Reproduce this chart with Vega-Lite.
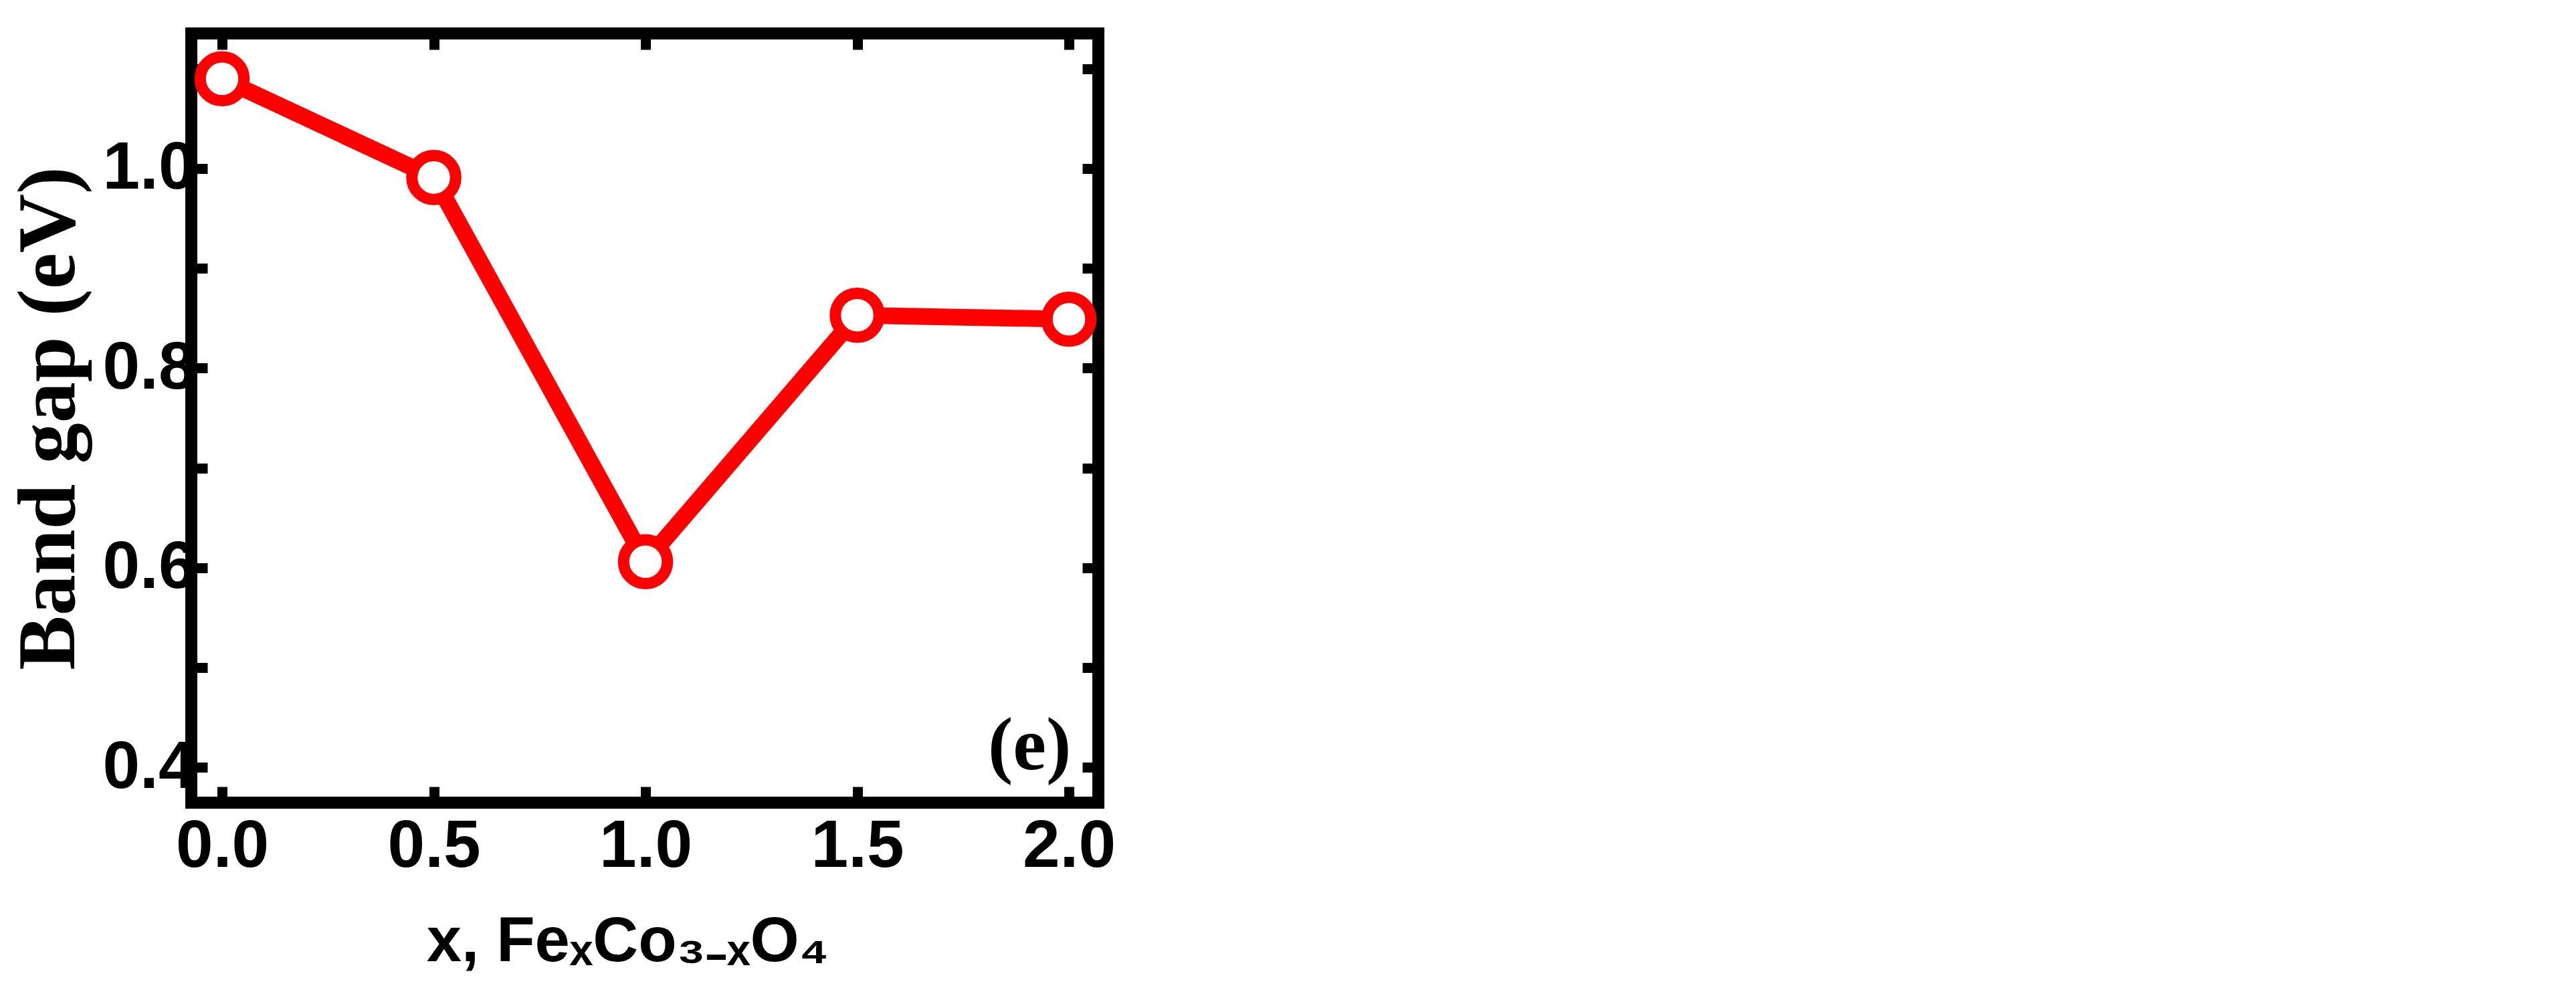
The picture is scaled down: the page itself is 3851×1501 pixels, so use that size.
{
  "$schema": "https://vega.github.io/schema/vega-lite/v6.json",
  "width": 1356,
  "height": 1150,
  "autosize": {"type": "none"},
  "padding": {"left": 286, "top": 50, "right": 2209, "bottom": 301},
  "background": "white",
  "config": {
    "view": {"stroke": "black", "strokeWidth": 18},
    "axis": {
      "domain": false,
      "grid": false,
      "tickColor": "black",
      "tickWidth": 15,
      "tickSize": -24,
      "labelColor": "black",
      "labelFont": "Liberation Sans, Arial",
      "labelFontWeight": "bold",
      "labelFontSize": 100,
      "titleColor": "black"
    }
  },
  "datasets": {
    "gap": [
      {"x": 0.0, "gap": 1.09},
      {"x": 0.5, "gap": 0.991},
      {"x": 1.0, "gap": 0.606},
      {"x": 1.5, "gap": 0.853},
      {"x": 2.0, "gap": 0.849}
    ],
    "label": [
      {"x": 1.907, "gap": 0.398, "text": "(e)"}
    ]
  },
  "resolve": {"axis": {"x": "independent", "y": "independent"}},
  "layer": [
    {
      "data": {"name": "gap"},
      "mark": {"type": "line", "color": "#ff0000", "strokeWidth": 25},
      "encoding": {
        "x": {
          "field": "x", "type": "quantitative",
          "scale": {"domain": [-0.0727, 2.0695], "nice": false, "zero": false},
          "axis": {
            "orient": "bottom",
            "values": [0, 0.5, 1, 1.5, 2],
            "format": ".1f",
            "labelPadding": 40,
            "title": "x, FeₓCo₃₋ₓO₄",
            "titleFont": "Liberation Sans, Arial",
            "titleFontWeight": "bold",
            "titleFontSize": 94,
            "titleX": 652,
            "titleY": 236,
            "titleAlign": "center",
            "titleBaseline": "alphabetic"
          }
        },
        "y": {
          "field": "gap", "type": "quantitative",
          "scale": {"domain": [0.3645, 1.1354], "nice": false, "zero": false},
          "axis": {
            "orient": "left",
            "values": [0.4, 0.5, 0.6, 0.7, 0.8, 0.9, 1.0, 1.1],
            "labelExpr": "round(datum.value*10) % 2 == 0 ? format(datum.value, '.1f') : ''",
            "labelPadding": 18,
            "title": "Band gap (eV)",
            "titleFont": "Liberation Serif, Times New Roman",
            "titleFontWeight": "bold",
            "titleFontSize": 122,
            "titleAngle": 270,
            "titleX": -176,
            "titleAlign": "center",
            "titleBaseline": "alphabetic"
          }
        }
      }
    },
    {
      "data": {"name": "gap"},
      "mark": {"type": "point", "shape": "circle", "filled": false, "fill": "white", "fillOpacity": 1, "stroke": "#ff0000", "strokeWidth": 17, "size": 4300, "opacity": 1},
      "encoding": {
        "x": {"field": "x", "type": "quantitative", "axis": null},
        "y": {"field": "gap", "type": "quantitative", "axis": null}
      }
    },
    {
      "data": {"name": "label"},
      "mark": {"type": "text", "font": "Liberation Serif, Times New Roman", "fontWeight": "bold", "fontSize": 112, "align": "center", "baseline": "alphabetic", "color": "black"},
      "encoding": {
        "x": {"field": "x", "type": "quantitative", "axis": null},
        "y": {"field": "gap", "type": "quantitative", "axis": null},
        "text": {"field": "text"}
      }
    },
    {
      "data": {"name": "gap"},
      "mark": {"type": "point", "opacity": 0},
      "encoding": {
        "x": {
          "field": "x", "type": "quantitative",
          "axis": {"orient": "top", "values": [0, 0.5, 1, 1.5, 2], "labels": false, "title": null}
        },
        "y": {
          "field": "gap", "type": "quantitative",
          "axis": {"orient": "right", "values": [0.4, 0.5, 0.6, 0.7, 0.8, 0.9, 1.0, 1.1], "labels": false, "title": null}
        }
      }
    }
  ]
}
